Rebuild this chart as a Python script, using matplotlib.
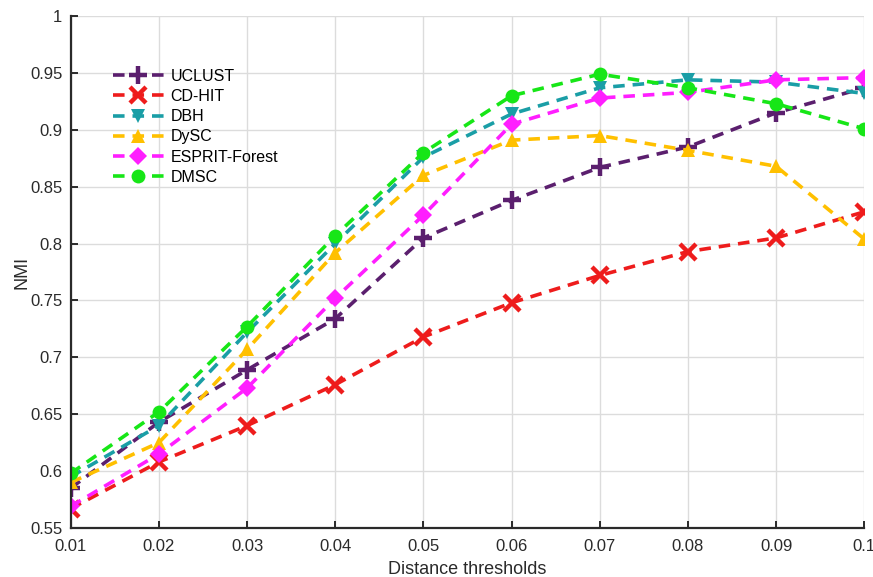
import matplotlib
matplotlib.use("Agg")
import matplotlib.pyplot as plt

plt.rcParams['font.family'] = ['Liberation Sans', 'DejaVu Sans']

thresholds = [0.01, 0.02, 0.03, 0.04, 0.05, 0.06, 0.07, 0.08, 0.09, 0.10]
x_tick_labels = ['0.01', '0.02', '0.03', '0.04', '0.05', '0.06', '0.07', '0.08', '0.09', '0.1']
y_ticks = [0.55, 0.6, 0.65, 0.7, 0.75, 0.8, 0.85, 0.9, 0.95, 1.0]
y_tick_labels = ['0.55', '0.6', '0.65', '0.7', '0.75', '0.8', '0.85', '0.9', '0.95', '1']

uclust = [0.585, 0.643, 0.689, 0.734, 0.805, 0.838, 0.867, 0.885, 0.915, 0.937]
cd_hit = [0.567, 0.608, 0.640, 0.676, 0.718, 0.748, 0.772, 0.793, 0.805, 0.828]
dbh = [0.595, 0.640, 0.722, 0.800, 0.876, 0.914, 0.937, 0.944, 0.942, 0.932]
dysc = [0.590, 0.625, 0.707, 0.792, 0.860, 0.891, 0.895, 0.882, 0.868, 0.804]
esprit_forest = [0.569, 0.615, 0.673, 0.752, 0.825, 0.905, 0.928, 0.933, 0.944, 0.946]
dmsc = [0.598, 0.652, 0.727, 0.807, 0.880, 0.930, 0.949, 0.937, 0.923, 0.901]

series = [
    ('UCLUST', uclust, '#5b1f6e', 'P'),
    ('CD-HIT', cd_hit, '#ee1c1c', 'X'),
    ('DBH', dbh, '#1a9ea6', 'v'),
    ('DySC', dysc, '#ffc000', '^'),
    ('ESPRIT-Forest', esprit_forest, '#ff1eff', 'D'),
    ('DMSC', dmsc, '#17e617', 'o'),
]

fig = plt.figure(figsize=(8.73, 5.77), dpi=100)
ax = fig.add_axes([0.081, 0.085, 0.909, 0.887])

dash = (0, (3.2, 2.2))
for name, vals, color, marker in series:
    if marker == 'P':
        ax.plot(thresholds, vals, linestyle=dash, linewidth=2.6, color=color,
                marker='+', markersize=13, markeredgewidth=3.2, label=name)
    elif marker == 'X':
        ax.plot(thresholds, vals, linestyle=dash, linewidth=2.6, color=color,
                marker='x', markersize=11, markeredgewidth=3.2, label=name)
    else:
        ms = 9 if marker == 'D' else 10
        ax.plot(thresholds, vals, linestyle=dash, linewidth=2.6, color=color,
                marker=marker, markersize=ms, markeredgewidth=0, label=name)

ax.set_xlim(0.01, 0.10)
ax.set_ylim(0.55, 1.0)
ax.set_xticks(thresholds)
ax.set_xticklabels(x_tick_labels)
ax.set_yticks(y_ticks)
ax.set_yticklabels(y_tick_labels)
ax.grid(True, color='#dcdcdc', linewidth=1.0)
ax.set_axisbelow(True)
for side in ('top', 'right'):
    ax.spines[side].set_visible(False)
for side in ('left', 'bottom'):
    ax.spines[side].set_linewidth(1.6)
    ax.spines[side].set_color('#2a2a2a')
ax.tick_params(axis='both', labelsize=12, length=5, width=1.4, direction='in',
               colors='#2a2a2a')
ax.tick_params(axis='x', pad=8)
ax.tick_params(axis='y', pad=6)
for lbl in ax.get_xticklabels() + ax.get_yticklabels():
    lbl.set_color('#2a2a2a')

ax.set_xlabel('Distance thresholds', fontsize=13, color='#2a2a2a', labelpad=5)
ax.set_ylabel('NMI', fontsize=13, color='#2a2a2a', labelpad=0)

leg = ax.legend(loc='upper left', bbox_to_anchor=(0.045, 0.91), frameon=False,
                fontsize=11.5, handlelength=3.2, labelspacing=0.33, handletextpad=0.4,
                borderaxespad=0)

fig.savefig('out.png', dpi=100)
